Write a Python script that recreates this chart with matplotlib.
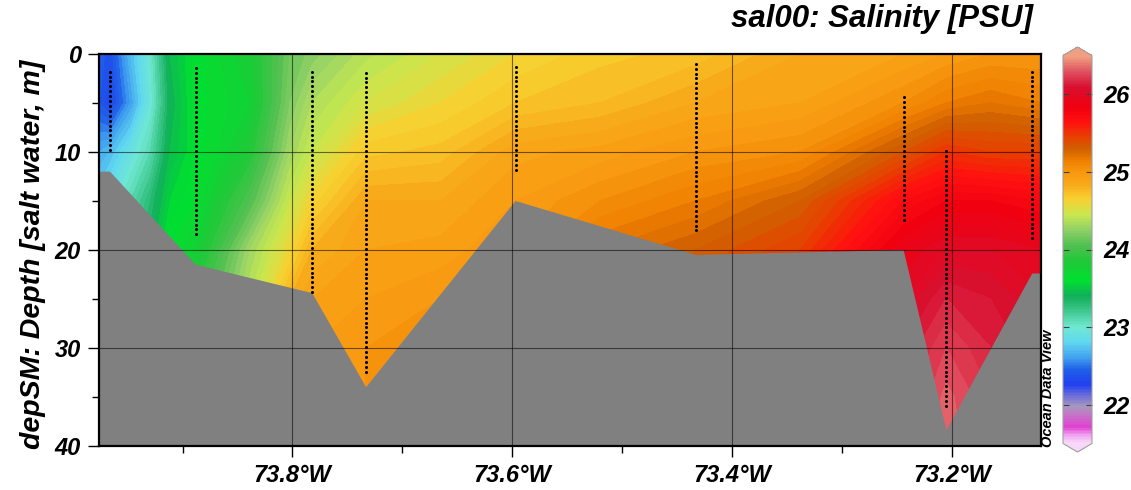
import numpy as np
import matplotlib
matplotlib.use("Agg")
import matplotlib.pyplot as plt
from matplotlib.colors import LinearSegmentedColormap, Normalize
from matplotlib.cm import ScalarMappable

plt.rcParams['font.family'] = ['Liberation Sans', 'DejaVu Sans']
plt.rcParams['font.weight'] = 'bold'
plt.rcParams['font.style'] = 'italic'

# grid of salinity estimates (longitude x depth)
grid_lon = [-73.976, -73.966, -73.947, -73.929, -73.911, -73.888, -73.838, -73.802,
            -73.782, -73.733, -73.665, -73.597, -73.520, -73.433, -73.338, -73.244,
            -73.205, -73.165, -73.119]
grid_depth = [0, 5, 10, 15, 20, 25, 30, 35, 40]

sal_0m = [22.45, 22.35, 22.7, 23.0, 23.45, 23.62, 23.8, 24.15, 24.22, 24.38, 24.5, 24.6,
          24.68, 24.72, 24.85, 24.9, 24.95, 25.0, 25.0]
sal_5m = [22.4, 22.3, 22.6, 22.95, 23.4, 23.62, 23.75, 24.2, 24.35, 24.5, 24.6, 24.7,
          24.75, 24.85, 24.9, 25.05, 25.15, 25.2, 25.15]
sal_10m = [22.65, 22.7, 22.9, 23.1, 23.45, 23.6, 23.85, 24.3, 24.45, 24.68, 24.72, 24.88,
           24.92, 25.0, 25.05, 25.35, 25.5, 25.45, 25.45]
sal_15m = [22.8, 22.9, 23.1, 23.3, 23.55, 23.65, 24.05, 24.45, 24.62, 24.85, 24.85, 24.95,
           25.05, 25.15, 25.3, 25.7, 25.8, 25.8, 25.75]
sal_20m = [22.9, 23.0, 23.2, 23.4, 23.65, 23.75, 24.3, 24.6, 24.8, 24.9, 24.92, 25.0,
           25.2, 25.3, 25.45, 25.9, 26.0, 26.0, 25.95]
sal_25m = [23.0, 23.1, 23.3, 23.5, 23.8, 23.9, 24.4, 24.8, 24.9, 24.95, 25.0, 25.05,
           25.25, 25.35, 25.5, 26.0, 26.15, 26.1, 26.0]
sal_30m = [23.0, 23.1, 23.3, 23.5, 23.8, 23.9, 24.4, 24.85, 24.95, 25.0, 25.05, 25.1,
           25.3, 25.4, 25.55, 26.1, 26.25, 26.15, 26.05]
sal_35m = [23.0, 23.1, 23.3, 23.5, 23.8, 23.9, 24.4, 24.85, 24.95, 25.0, 25.05, 25.1,
           25.3, 25.4, 25.6, 26.15, 26.32, 26.2, 26.1]
sal_40m = [23.0, 23.1, 23.3, 23.5, 23.8, 23.9, 24.4, 24.85, 24.95, 25.0, 25.05, 25.1,
           25.3, 25.4, 25.6, 26.2, 26.35, 26.2, 26.1]

# station casts (dots)
station_lon = [-73.966, -73.888, -73.782, -73.733, -73.597, -73.433, -73.244, -73.205, -73.127]
station_top = [1.8, 1.4, 1.8, 1.9, 1.3, 1.0, 4.4, 9.9, 1.8]
station_bottom = [10.0, 18.5, 24.5, 32.5, 12.0, 18.2, 17.1, 36.1, 19.1]

# bottom topography
bottom_lon = [-73.976, -73.966, -73.888, -73.782, -73.733, -73.597, -73.433, -73.244,
              -73.205, -73.127, -73.119]
bottom_depth = [12.0, 12.0, 21.5, 24.4, 34.0, 15.0, 20.5, 20.0, 38.4, 22.4, 22.4]

xticks = [-73.8, -73.6, -73.4, -73.2]
xticklabels = ['73.8°W', '73.6°W', '73.4°W', '73.2°W']

# ODV-like colour scale
cmap_anchors = [
    (21.5, '#f8d8f8'), (21.6, '#f0a0f0'), (21.7, '#e040d0'), (21.85, '#c870c8'),
    (21.97, '#a898c0'), (22.1, '#7070d8'), (22.25, '#2040f0'), (22.45, '#2060e8'),
    (22.6, '#40a0f0'), (22.8, '#60d8f0'), (23.0, '#70e8d0'), (23.2, '#40c890'),
    (23.4, '#10b058'), (23.6, '#00e030'), (23.85, '#20c838'), (24.05, '#50c050'),
    (24.25, '#90d068'), (24.45, '#c8e850'), (24.65, '#f8d030'), (24.85, '#f8a818'),
    (25.0, '#f89810'), (25.15, '#f08000'), (25.3, '#d06000'), (25.45, '#e84000'),
    (25.65, '#ff1010'), (25.85, '#f00010'), (26.1, '#d81030'), (26.3, '#e05060'),
    (26.5, '#f0a080'),
]
vmin, vmax = 21.5, 26.5
cmap = LinearSegmentedColormap.from_list(
    'odv', [((v - vmin) / (vmax - vmin), c) for v, c in cmap_anchors])
cmap.set_over('#f0a080')
cmap.set_under('#f8d8f8')
norm = Normalize(vmin, vmax)

sal = np.array([sal_0m, sal_5m, sal_10m, sal_15m, sal_20m, sal_25m, sal_30m, sal_35m, sal_40m])

fig = plt.figure(figsize=(11.31, 4.90), dpi=100)
ax = fig.add_axes([99 / 1131, 44 / 490, 942 / 1131, 392 / 490])

levels = np.arange(21.5, 26.55, 0.05)
cs = ax.contourf(grid_lon, grid_depth, sal, levels=levels, cmap=cmap, norm=norm,
                 extend='both', zorder=1)
cs.set_edgecolor('face')
cs.set_linewidth(0.4)

poly_x = bottom_lon + [bottom_lon[-1], bottom_lon[0]]
poly_y = bottom_depth + [40, 40]
ax.fill(poly_x, poly_y, color='#808080', lw=0, zorder=2)

for x in xticks:
    ax.axvline(x, color='black', lw=0.8, alpha=0.55, zorder=3)
for y in [10, 20, 30]:
    ax.axhline(y, color='black', lw=0.8, alpha=0.55, zorder=3)

for lon, top, bot in zip(station_lon, station_top, station_bottom):
    d = np.arange(top, bot + 0.01, 0.5)
    ax.plot(np.full_like(d, lon), d, 'o', color='black', ms=2.2, mew=0, zorder=4)

ax.set_xlim(-73.976, -73.119)
ax.set_ylim(40, 0)
ax.set_xticks(xticks)
ax.set_xticklabels(xticklabels)
ax.set_xticks([-73.9, -73.7, -73.5, -73.3], minor=True)
ax.set_yticks([0, 10, 20, 30, 40])
ax.set_yticks([5, 15, 25, 35], minor=True)
ax.tick_params(which='major', length=8, width=1, labelsize=17, pad=5)
ax.tick_params(which='minor', length=5, width=1)
for s in ax.spines.values():
    s.set_linewidth(1.6)

fig.text(33 / 1131, (490 - 254) / 490, 'depSM: Depth [salt water, m]', rotation=90,
         ha='center', va='center', fontsize=20.5)
fig.text(1033 / 1131, (490 - 19) / 490, 'sal00: Salinity [PSU]', ha='right', va='center',
         fontsize=22.5)
fig.text(1048 / 1131, (490 - 447) / 490, 'Ocean Data View', rotation=90, ha='center',
         va='bottom', fontsize=10.5)

cax = fig.add_axes([1063 / 1131, 38 / 490, 29 / 1131, 405 / 490])
cb = fig.colorbar(ScalarMappable(norm=norm, cmap=cmap), cax=cax, extend='both',
                  extendfrac=0.022)
cb.set_ticks([22, 23, 24, 25, 26])
cb.outline.set_edgecolor('#a0a0a0')
cb.outline.set_linewidth(0.8)
cax.tick_params(axis='y', direction='in', left=True, right=True, length=4, width=0.8,
                color='#404040', labelsize=17, pad=8)

fig.savefig('out.png', dpi=100)
